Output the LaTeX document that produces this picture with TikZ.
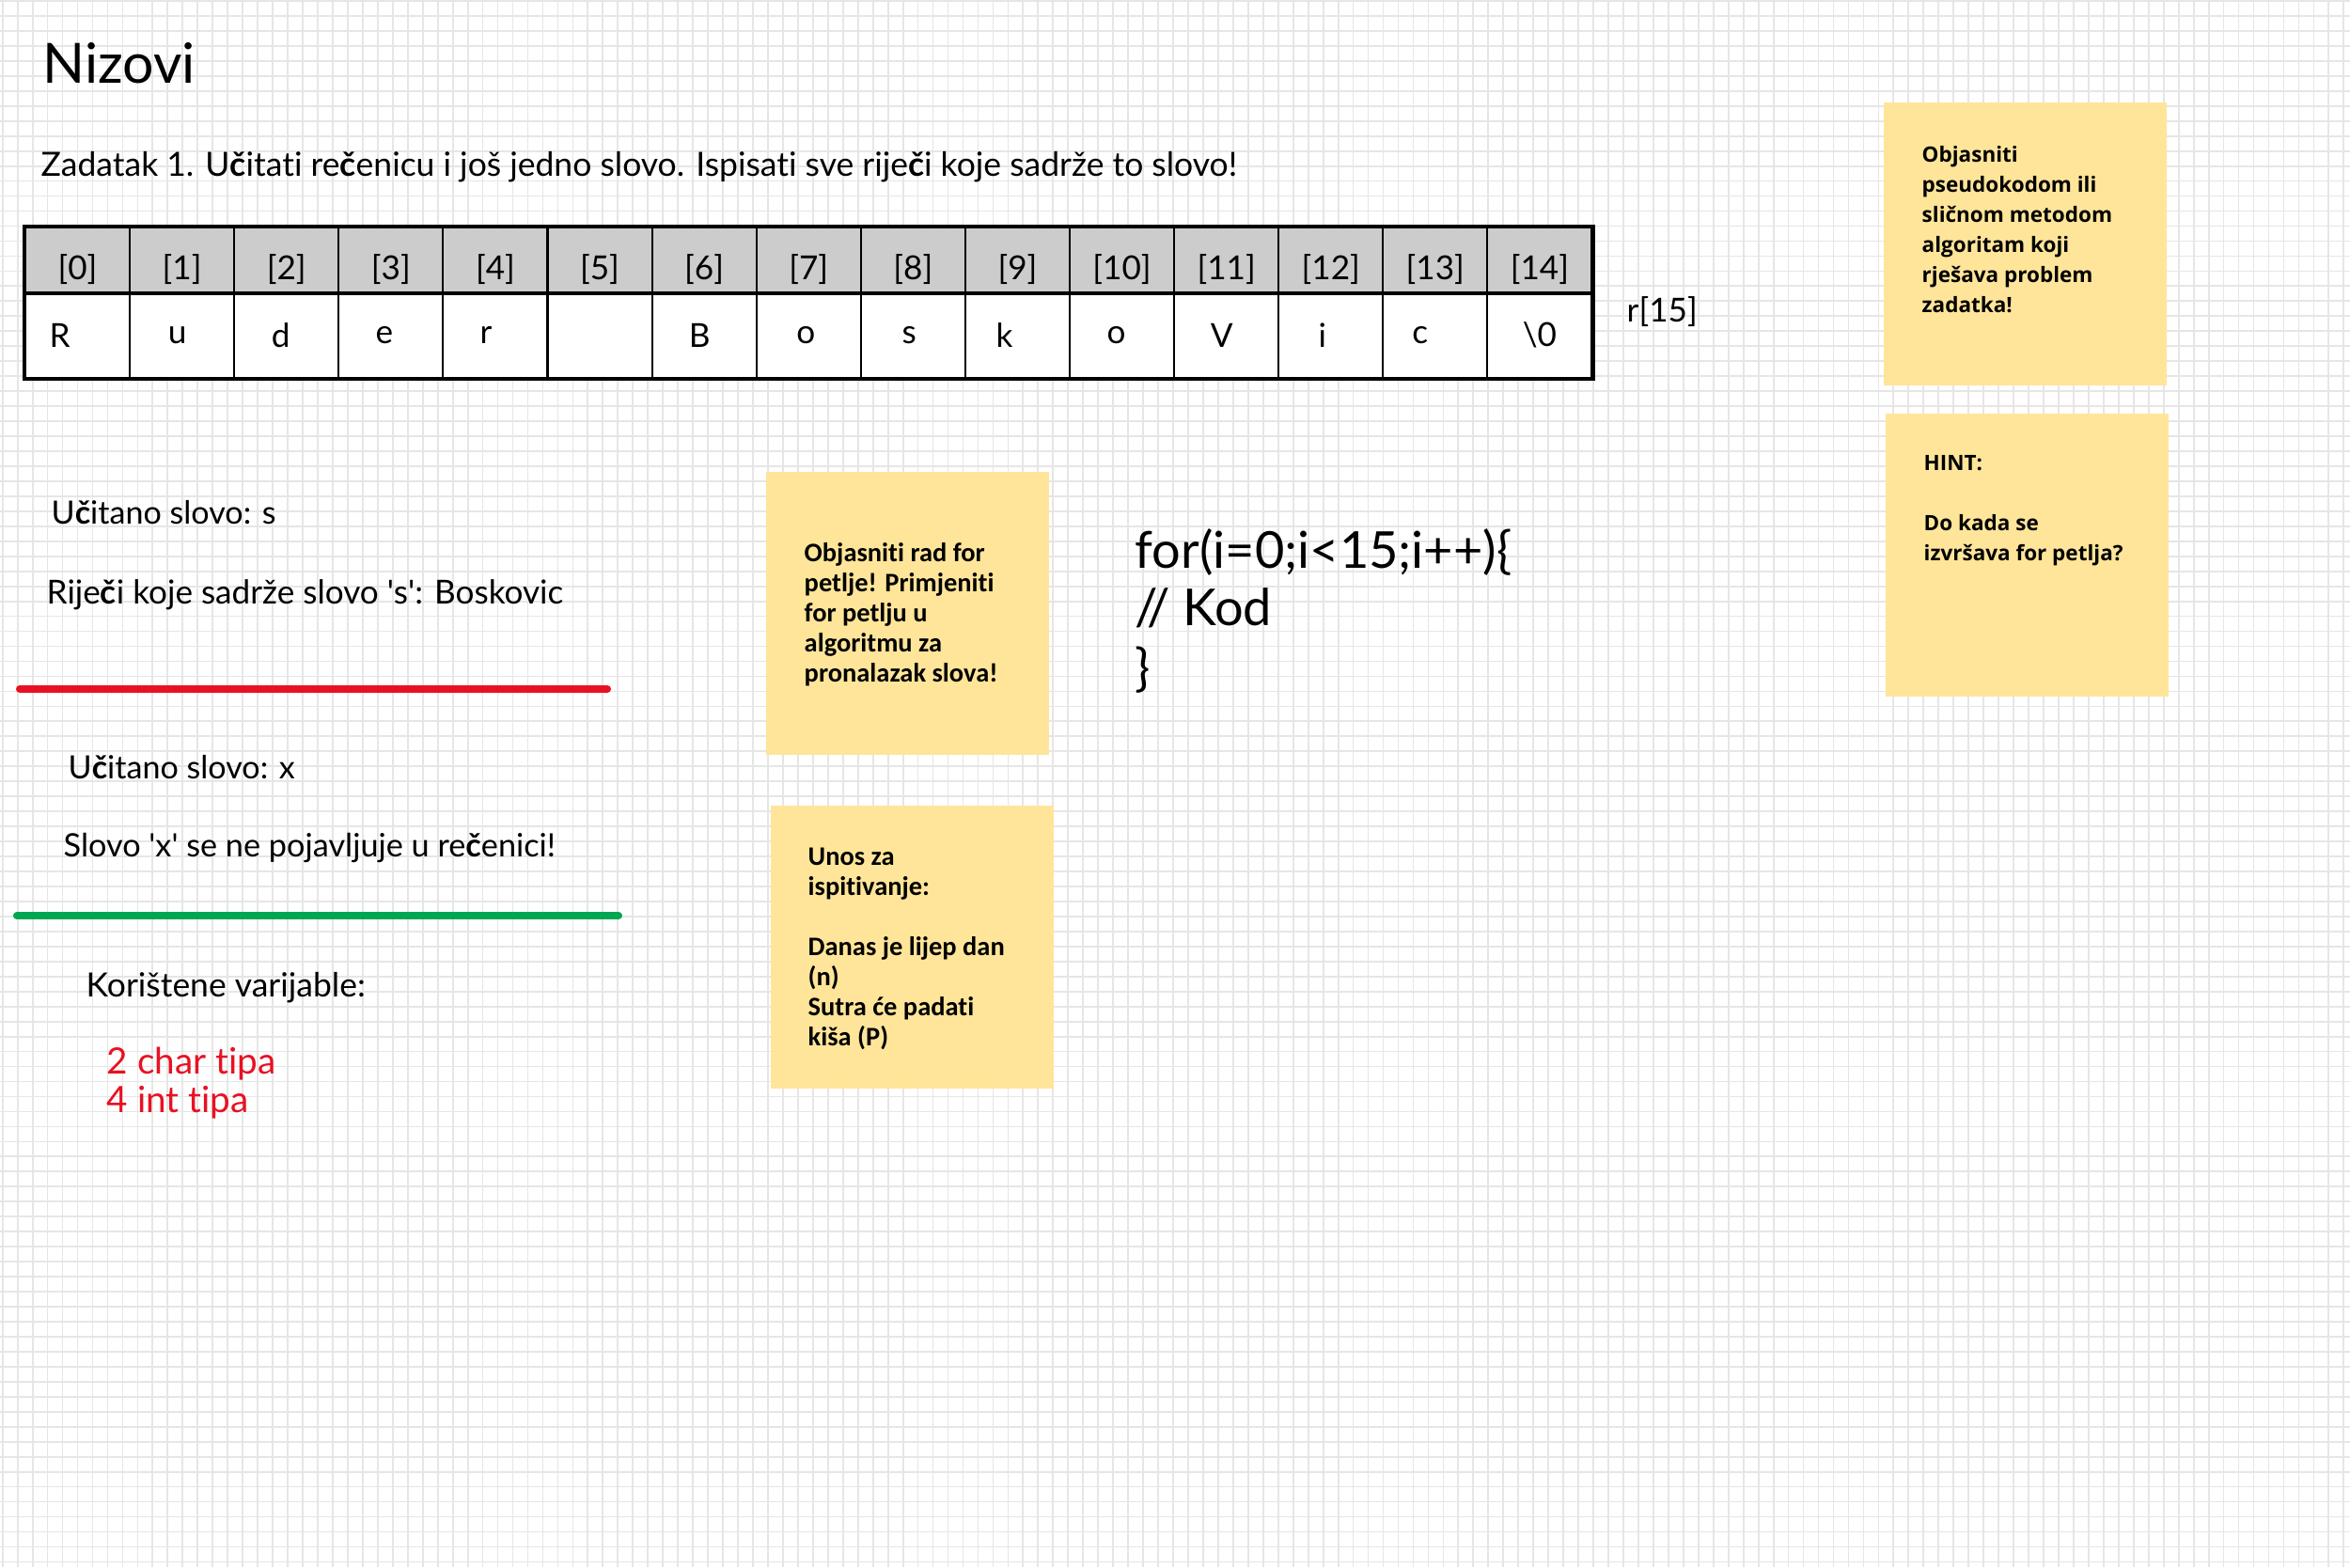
\documentclass[tikz,border=0pt]{standalone}
\usepackage{fontspec}
\setmainfont{Lato}
\newfontfamily\handfont[Ligatures={TeX,CommonOff}]{Lato}
\newfontfamily\notefont{Open Sans}
\newfontfamily\narrowfont[Ligatures={TeX,CommonOff}]{Carlito}
\usetikzlibrary{positioning}

\definecolor{notebg}{RGB}{255,229,153}
\definecolor{inkred}{RGB}{232,17,35}
\definecolor{inkgreen}{RGB}{0,166,81}
\definecolor{gridgray}{RGB}{230,230,230}
\definecolor{headgray}{RGB}{204,204,204}

\tikzset{
    gridline/.style={draw=gridgray, line width=0.5pt},
    hand/.style={font=\handfont\fontsize{#1}{#1}\selectfont, anchor=west, inner sep=0pt},
    headcell/.style={draw, fill=headgray, minimum width=1.111cm, minimum height=0.69cm, inner sep=0pt, line width=0.6pt},
    valcell/.style={draw, fill=white, minimum width=1.111cm, minimum height=0.91cm, inner sep=0pt, line width=0.6pt},
    sticky/.style={fill=notebg, minimum width=3.01cm, minimum height=3.01cm, inner sep=0pt},
    loopnote/.style={font=\narrowfont\bfseries\fontsize{8.1}{9.1}\selectfont, align=left, anchor=west, inner sep=0pt},
    sidenote/.style={font=\notefont\bfseries\fontsize{6.4}{9.1}\selectfont, align=left, anchor=west, inner sep=0pt},
    sepline/.style={line width=2.3pt, line cap=round}
}

\begin{document}
\begin{tikzpicture}
    \useasboundingbox (0,0) rectangle (25,-16.67);
    \fill[white] (0,0) rectangle (25,-16.67);
    \draw[gridline, shift={(0.027,-0.01)}] (-0.027,0.01) grid[step=0.15966] (24.97,-16.66);

    \node[hand=16.8] (TITLE) at (0.45,-0.67) {Nizovi};
    \node[hand=10.1] (TASK) at (0.43,-1.78) {Zadatak 1. U\textbf{č}itati re\textbf{č}enicu i još jedno slovo. Ispisati sve rije\textbf{č}i koje sadrže to slovo!};

    % array r[15]
    \foreach \i in {0,...,14} {
        \node[headcell] (H\i) at (0.8255+1.111*\i,-2.765) {};
        \node[hand=10, anchor=center] (L\i) at (0.8255+1.111*\i,-2.87) {[\i]};
    }
    \foreach \ch/\dx [count=\i from 0] in {R/-0.19, u/-0.05, d/-0.06, e/-0.07, r/-0.1, {}/0, B/-0.05, o/-0.03, s/-0.04, k/-0.14, o/-0.06, V/-0.05, i/-0.09, c/-0.16, {\textbackslash 0}/0} {
        \node[valcell] (V\i) at (0.8255+1.111*\i,-3.565) {};
        \node[hand=10, anchor=center] (C\i) at ([xshift=\dx cm]V\i.center) {\ch};
    }
    \draw[line width=1.1pt] (H0.north west) rectangle (V14.south east);
    \draw[line width=1.1pt] (H0.south west) -- (H14.south east);
    \node[hand=10] (SIZE) at (17.3,-3.32) {r[15]};

    \node[hand=9.7] (READS) at (0.54,-5.45) {U\textbf{č}itano slovo: s};
    \node[hand=10] (FOUND) at (0.49,-6.33) {Rije\textbf{č}i koje sadrže slovo \textquotesingle s\textquotesingle : Boskovic};
    \draw[sepline, inkred] (0.21,-7.33) -- (6.46,-7.33);

    \node[hand=9.7] (READX) at (0.72,-8.16) {U\textbf{č}itano slovo: x};
    \node[hand=9.75] (NOTFOUND) at (0.67,-9.02) {Slovo \textquotesingle x\textquotesingle\ se ne pojavljuje u re\textbf{č}enici!};
    \draw[sepline, inkgreen] (0.18,-9.74) -- (6.58,-9.74);

    \node[hand=10.1] (VARS) at (0.91,-10.51) {Korištene varijable:};
    \node[hand=11, text=inkred] (CHARS) at (1.13,-11.32) {2 char tipa};
    \node[hand=11, text=inkred] (INTS) at (1.13,-11.73) {4 int tipa};

    \node[hand=15.4] (FOR) at (12.07,-5.87) {for(i=0;i<15;i++)\{};
    \node[hand=15.4] (KOD) at (12.07,-6.47) {// Kod};
    \node[hand=15.4] (ENDFOR) at (12.07,-7.13) {\}};

    \node[sticky] (LOOPBOX) at (9.655,-6.52) {};
    \node[loopnote] (LOOPTXT) at (8.55,-6.535) {Objasniti rad for\\petlje! Primjeniti\\for petlju u\\algoritmu za\\pronalazak slova!};
    \node[sticky] (TESTBOX) at (9.705,-10.07) {};
    \node[loopnote] (TESTTXT) at (8.59,-10.095) {Unos za\\ispitivanje:\\[9.1pt]Danas je lijep dan\\(n)\\Sutra će padati\\kiša (P)};

    \node[sticky] (TASKBOX) at (21.545,-2.59) {};
    \node[sidenote] (TASKTXT) at (20.44,-2.44) {Objasniti\\pseudokodom ili\\sličnom metodom\\algoritam koji\\rješava problem\\zadatka!};
    \node[sticky] (HINTBOX) at (21.565,-5.905) {};
    \node[sidenote] (HINTTXT) at (20.46,-5.435) {HINT:\\[9.1pt]Do kada se\\izvršava for petlja?};

    % \draw[help lines] (0,0) grid (25,-16.67);
\end{tikzpicture}
\end{document}
